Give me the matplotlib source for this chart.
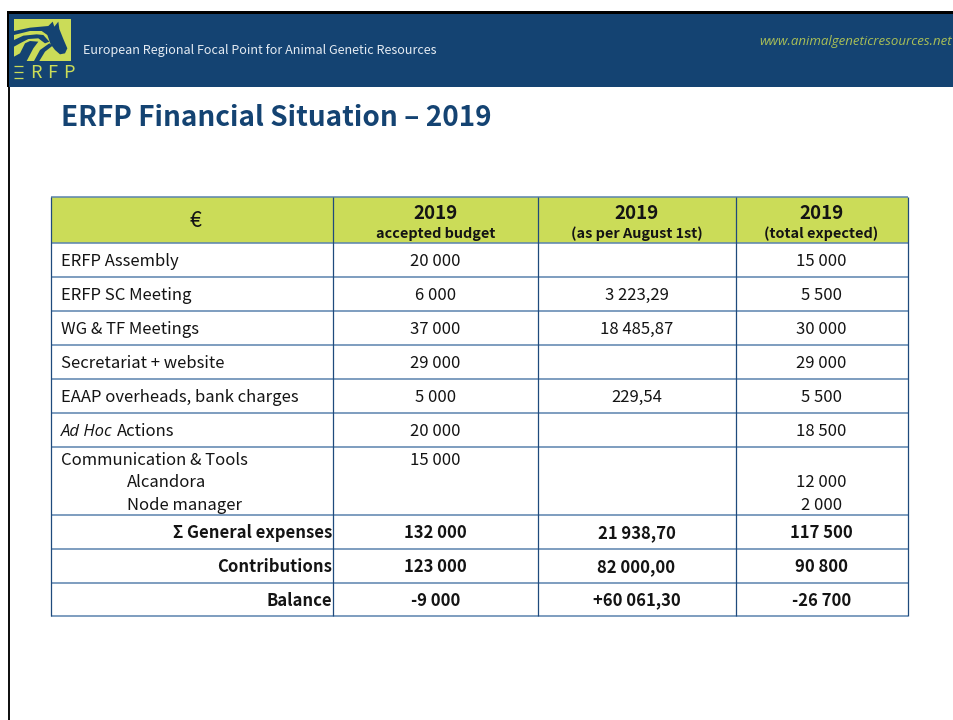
import matplotlib.pyplot as plt
from matplotlib.patches import Rectangle, Polygon

plt.rcParams["font.family"] = ["Noto Sans CJK SC", "DejaVu Sans"]

NAVY = "#144372"
GREEN = "#cbdc58"
LINE = "#5a82ad"
VLINE = "#1f4a7c"
INK = "#141414"

col_heads = ["2019", "2019", "2019"]
col_subs = ["accepted budget", "(as per August 1st)", "(total expected)"]
labels = [
    "ERFP Assembly",
    "ERFP SC Meeting",
    "WG & TF Meetings",
    "Secretariat + website",
    "EAAP overheads, bank charges",
    "Actions",
]
budget = ["20 000", "6 000", "37 000", "29 000", "5 000", "20 000"]
august = ["", "3 223,29", "18 485,87", "", "229,54", ""]
expected = ["15 000", "5 500", "30 000", "29 000", "5 500", "18 500"]

comm_labels = ["Communication & Tools", "Alcandora", "Node manager"]
comm_budget = ["15 000", "", ""]
comm_expected = ["", "12 000", "2 000"]

total_labels = ["Σ General expenses", "Contributions", "Balance"]
total_budget = ["132 000", "123 000", "-9 000"]
total_august = ["21 938,70", "82 000,00", "+60 061,30"]
total_expected = ["117 500", "90 800", "-26 700"]

# table grid in pixels
col_x = [51.5, 333.5, 538, 736, 908]
row_y = [197, 243, 277, 311, 345, 379, 413, 447, 515, 549, 583, 616]
col_mid = [(col_x[i] + col_x[i + 1]) / 2 - 0.5 for i in range(1, 4)]

# logo outlines, traced on a 3x crop starting at (10, 15)
logo_shapes = [
    [(12, 48), (60, 38), (115, 33), (128, 20), (133, 35), (145, 20), (148, 42), (160, 72),
     (172, 100), (165, 115), (150, 118), (135, 105), (122, 88), (112, 60), (95, 48), (60, 48), (12, 60)],
    [(118, 85), (128, 92), (105, 110), (88, 138), (72, 138), (90, 105)],
    [(12, 75), (40, 62), (80, 58), (100, 60), (118, 80), (105, 85), (85, 70), (55, 72), (30, 85), (12, 95)],
    [(45, 85), (60, 78), (85, 80), (70, 100), (50, 138), (12, 138), (12, 125), (30, 115)],
]


def crop_to_px(points):
    return [(10 + x / 3, 15 + y / 3) for x, y in points]


def put(x, y, s, **kw):
    # y is the text baseline in pixels
    kw.setdefault("color", INK)
    kw.setdefault("fontsize", 12)
    kw.setdefault("ha", "left")
    ax.text(x, y, s, va="baseline", **kw)


def put_num(x, y, s, **kw):
    # the comma's descent pushes these down a pixel when agg rounds
    if "," in s:
        y -= 0.7
    put(x, y, s, ha="center", **kw)


fig = plt.figure(figsize=(9.54, 7.2), dpi=100)
ax = fig.add_axes([0, 0, 1, 1])
ax.set_xlim(0, 954)
ax.set_ylim(720, 0)
ax.axis("off")

# banner and slide edge
ax.add_patch(Rectangle((9, 13), 950, 74, color=NAVY, lw=0))
ax.add_patch(Rectangle((7, 11), 950, 2.5, color="black", lw=0))
ax.add_patch(Rectangle((7, 11), 2.3, 76, color="black", lw=0))
ax.add_patch(Rectangle((8, 87), 2, 640, color="#111111", lw=0))

# logo
ax.add_patch(Rectangle((14, 19), 57, 42, color=GREEN, lw=0))
for shape in logo_shapes:
    ax.add_patch(Polygon(crop_to_px(shape), color=NAVY, lw=0))
for y in [66, 71.5, 77.5]:
    ax.plot([14.5, 23], [y, y], color=GREEN, lw=0.9, solid_capstyle="butt")
for x, letter in zip([30, 47, 63], "RFP"):
    put(x, 78.5, letter, color=GREEN, fontsize=13)

put(83, 54, "European Regional Focal Point for Animal Genetic Resources",
    color="#e4ebf2", fontsize=9.05)
put(952, 45, "www.animalgeneticresources.net", color="#a9bf57", fontsize=9.5,
    ha="right", fontstyle="italic", family="Open Sans")
put(61, 126, "ERFP Financial Situation – 2019", color=NAVY, fontsize=20.1, fontweight="bold")

# header band
ax.add_patch(Rectangle((col_x[0], row_y[0]), col_x[-1] - col_x[0], row_y[1] - row_y[0],
                       color=GREEN, lw=0))
put(195, 227, "€", fontsize=15.5, ha="center")
for xm, head, sub in zip(col_mid, col_heads, col_subs):
    put(xm, 219, head, fontsize=13.5, fontweight="bold", ha="center")
    put(xm, 238, sub, fontsize=10.4, fontweight="bold", ha="center")

# grid
for y in row_y:
    ax.plot([col_x[0], col_x[-1]], [y, y], color=LINE, lw=1.1, solid_capstyle="butt")
for x in col_x:
    ax.plot([x, x], [row_y[0], row_y[-1]], color=VLINE, lw=0.9, solid_capstyle="butt")

# plain rows
for i, name in enumerate(labels):
    base = (row_y[i + 1] + row_y[i + 2]) / 2 + 6.5
    if name == "Actions":
        put(61, base, "Ad Hoc", fontstyle="italic", family="Open Sans", fontsize=12)
        put(117, base, name)
    else:
        put(61, base, name)
    for xm, vals in zip(col_mid, [budget, august, expected]):
        put_num(xm, base, vals[i])

# communication block
comm_y = [465, 487, 510]
comm_x = [61, 127, 127]
for y, x, name, b, e in zip(comm_y, comm_x, comm_labels, comm_budget, comm_expected):
    put(x, y, name)
    put_num(col_mid[0], y, b)
    put_num(col_mid[2], y, e)

# totals
for i, name in enumerate(total_labels):
    base = (row_y[8 + i] + row_y[9 + i]) / 2 + 6.5
    put(332.5, base, name, fontweight="bold", ha="right")
    for xm, vals in zip(col_mid, [total_budget, total_august, total_expected]):
        put_num(xm, base, vals[i], fontweight="bold")

fig.savefig("out.png", dpi=100)
